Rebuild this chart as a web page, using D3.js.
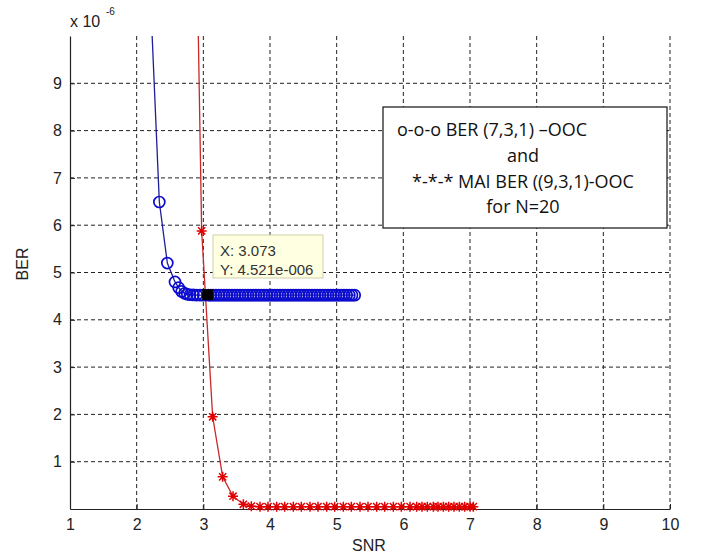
<!DOCTYPE html>
<html>
<head>
<meta charset="utf-8">
<script src="https://cdn.jsdelivr.net/npm/d3@7"></script>
<style>
  body { margin: 0; background: #fff; overflow: hidden; }
  svg { display: block; }
</style>
</head>
<body>
<svg id="chart"></svg>
<script>
const svg_width = 710;
const svg_height = 556;

// BER values are in units of 1e-6 (axis shows "x 10^-6")
const xTicks = [1, 2, 3, 4, 5, 6, 7, 8, 9, 10];
const yTicks = [1, 2, 3, 4, 5, 6, 7, 8, 9];

// o-o-o BER (7,3,1)-OOC
const snrBlue = [2.22, 2.34, 2.46, 2.575, 2.63, 2.675, 2.72, 2.76, 2.80, 2.85, 2.90, 2.95, 3.00, 3.073,
  3.11, 3.15, 3.19, 3.23, 3.27, 3.31, 3.35, 3.39, 3.43, 3.47, 3.51, 3.55, 3.59, 3.63, 3.67, 3.71,
  3.75, 3.79, 3.83, 3.87, 3.91, 3.95, 3.99, 4.03, 4.07, 4.11, 4.15, 4.19, 4.23, 4.27, 4.31, 4.35,
  4.39, 4.43, 4.47, 4.51, 4.55, 4.59, 4.63, 4.67, 4.71, 4.75, 4.79, 4.83, 4.87, 4.91, 4.95, 4.99,
  5.03, 5.07, 5.11, 5.15, 5.19, 5.23, 5.27];
const berBlue = [10.4, 6.49, 5.20, 4.80, 4.68, 4.60, 4.56, 4.54, 4.53, 4.525, 4.523, 4.522, 4.521, 4.521,
  4.521, 4.521, 4.521, 4.521, 4.521, 4.521, 4.521, 4.521, 4.521, 4.521, 4.521, 4.521, 4.521, 4.521, 4.521, 4.521,
  4.521, 4.521, 4.521, 4.521, 4.521, 4.521, 4.521, 4.521, 4.521, 4.521, 4.521, 4.521, 4.521, 4.521, 4.521, 4.521,
  4.521, 4.521, 4.521, 4.521, 4.521, 4.521, 4.521, 4.521, 4.521, 4.521, 4.521, 4.521, 4.521, 4.521, 4.521, 4.521,
  4.521, 4.521, 4.521, 4.521, 4.521, 4.521, 4.521];

// *-*-* MAI BER (9,3,1)-OOC
const snrRed = [2.835, 2.975, 3.14, 3.29, 3.445, 3.60, 3.72, 3.85, 3.97, 4.10, 4.22, 4.35, 4.47,
  4.60, 4.72, 4.85, 4.97, 5.10, 5.22, 5.35, 5.47, 5.60, 5.72, 5.85, 5.97, 6.10, 6.20, 6.28,
  6.36, 6.45, 6.52, 6.60, 6.68, 6.76, 6.84, 6.92, 7.00, 7.05];
const berRed = [17.4, 5.88, 1.95, 0.68, 0.27, 0.10, 0.06, 0.05, 0.05, 0.05, 0.05, 0.05, 0.05,
  0.05, 0.05, 0.05, 0.05, 0.05, 0.05, 0.05, 0.05, 0.05, 0.05, 0.05, 0.05, 0.05, 0.05, 0.05,
  0.05, 0.05, 0.05, 0.05, 0.05, 0.05, 0.05, 0.05, 0.05, 0.05];

const tipX = 3.073;
const tipY = 4.521;
const legendLines = ['o-o-o BER (7,3,1) \u2013OOC', 'and', '*-*-* MAI BER ((9,3,1)-OOC', 'for N=20'];

const svg = d3.select('#chart')
  .attr('width', svg_width)
  .attr('height', svg_height)
  .attr('font-family', '"Liberation Sans", Arial, sans-serif');

const margin = {top: 36, right: 40, bottom: 47, left: 70};
const innerWidth = svg_width - margin.left - margin.right;
const innerHeight = svg_height - margin.top - margin.bottom;

const g = svg.append('g').attr('transform', `translate(${margin.left}, ${margin.top})`);

const x = d3.scaleLinear().domain([1, 10]).range([0, innerWidth]);
const y = d3.scaleLinear().domain([0, 10]).range([innerHeight, 0]);

// grid
g.selectAll('.vgrid').data(xTicks.slice(1)).enter().append('line')
  .attr('x1', d => x(d)).attr('x2', d => x(d))
  .attr('y1', 0).attr('y2', innerHeight)
  .attr('stroke', '#222').attr('stroke-dasharray', '4,3').attr('stroke-width', 1);
g.selectAll('.hgrid').data(yTicks).enter().append('line')
  .attr('y1', d => y(d)).attr('y2', d => y(d))
  .attr('x1', 0).attr('x2', innerWidth)
  .attr('stroke', '#222').attr('stroke-dasharray', '4,3').attr('stroke-width', 1);

// axes
const xAxis = g.append('g').attr('transform', `translate(0, ${innerHeight})`)
  .call(d3.axisBottom(x).tickValues(xTicks).tickFormat(d3.format('d')).tickSizeInner(-5).tickSizeOuter(0).tickPadding(10));
const yAxis = g.append('g')
  .call(d3.axisLeft(y).tickValues(yTicks).tickFormat(d3.format('d')).tickSizeInner(-5).tickSizeOuter(0).tickPadding(8));
[xAxis, yAxis].forEach(a => {
  a.attr('font-family', '"Liberation Sans", Arial, sans-serif').attr('font-size', 16);
  a.select('.domain').attr('stroke', '#222').attr('stroke-width', 1.2);
  a.selectAll('line').attr('stroke', '#222');
  a.selectAll('text').attr('fill', '#222');
});

// exponent label
svg.append('text').attr('x', 70).attr('y', 27).attr('font-size', '16px').attr('fill', '#222').text('x 10');
svg.append('text').attr('x', 106).attr('y', 15).attr('font-size', '10px').attr('fill', '#222').text('-6');

// axis labels
svg.append('text').attr('x', 369).attr('y', 551).attr('text-anchor', 'middle')
  .attr('font-size', '16px').attr('fill', '#222').text('SNR');
svg.append('text').attr('transform', 'translate(28, 264) rotate(-90)').attr('text-anchor', 'middle')
  .attr('font-size', '16px').attr('fill', '#222').text('BER');

// clip for lines
svg.append('defs').append('clipPath').attr('id', 'clip')
  .append('rect').attr('x', 0).attr('y', 0).attr('width', innerWidth).attr('height', innerHeight);

const blue = snrBlue.map((s, i) => ({x: s, y: berBlue[i]}));
const red = snrRed.map((s, i) => ({x: s, y: berRed[i]}));
const line = d3.line().x(d => x(d.x)).y(d => y(d.y));

g.append('path').datum(blue).attr('clip-path', 'url(#clip)')
  .attr('d', line).attr('fill', 'none').attr('stroke', '#1e1e96').attr('stroke-width', 1.3);
g.append('path').datum(red).attr('clip-path', 'url(#clip)')
  .attr('d', line).attr('fill', 'none').attr('stroke', '#c82828').attr('stroke-width', 1.3);

// markers: only where the point is inside the axes
const inside = d => d.y <= 10 && d.y >= 0;
g.selectAll('.circ').data(blue.filter(inside)).enter().append('circle')
  .attr('cx', d => x(d.x)).attr('cy', d => y(d.y)).attr('r', 5.5)
  .attr('fill', 'none').attr('stroke', '#0c0cd0').attr('stroke-width', 1.7);

const star = 'M-5,0L5,0M0,-5L0,5M-3.6,-3.6L3.6,3.6M-3.6,3.6L3.6,-3.6';
g.selectAll('.star').data(red.filter(inside)).enter().append('path')
  .attr('transform', d => `translate(${x(d.x)}, ${y(d.y)})`)
  .attr('d', star).attr('fill', 'none').attr('stroke', '#e00000').attr('stroke-width', 1.5);

// data tip
g.append('rect').attr('x', x(tipX) - 6).attr('y', y(tipY) - 6).attr('width', 11).attr('height', 11)
  .attr('fill', '#000');
const tip = svg.append('g');
tip.append('rect').attr('x', 213).attr('y', 235).attr('width', 110).attr('height', 43)
  .attr('fill', '#ffffe1').attr('stroke', '#cfcfa8').attr('stroke-width', 1);
tip.append('text').attr('x', 220).attr('y', 256).attr('font-size', '15px').attr('fill', '#333')
  .text('X: ' + tipX);
tip.append('text').attr('x', 220).attr('y', 275).attr('font-size', '15px').attr('fill', '#333')
  .text('Y: 4.521e-006');

// legend text box
const leg = svg.append('g');
leg.append('rect').attr('x', 383).attr('y', 107).attr('width', 284).attr('height', 121)
  .attr('fill', '#fff').attr('stroke', '#111').attr('stroke-width', 1.2);
const legY = [136, 162, 188, 213];
legendLines.forEach((t, i) => {
  const txt = leg.append('text').attr('y', legY[i]).attr('font-size', '18px').attr('fill', '#111')
    .attr('font-family', '"Open Sans", sans-serif').text(t);
  if (i === 0) txt.attr('x', 397);
  else txt.attr('x', 523).attr('text-anchor', 'middle');
});
</script>
</body>
</html>
